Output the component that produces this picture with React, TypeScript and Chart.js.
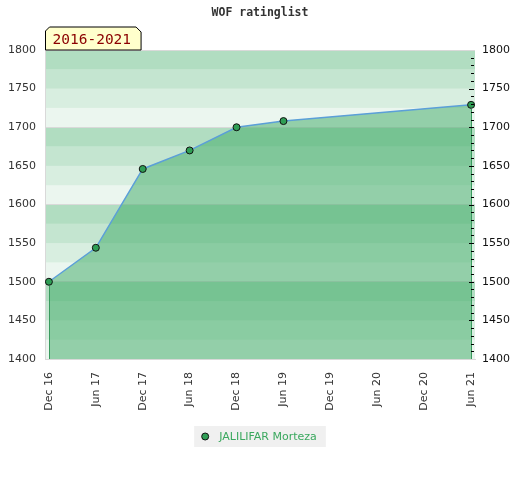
import React, { useEffect, useRef } from 'react';
import { Chart, registerables } from 'chart.js';

Chart.register(...registerables);

const chartTitle = 'WOF ratinglist';
const periodLabel = '2016-2021';
const playerName = 'JALILIFAR Morteza';
// months after Dec 2016
const monthOffsets = [0, 6, 12, 18, 24, 30, 54];
const ratings = [1500, 1544, 1646, 1670, 1700, 1708, 1729];
const xTickMonths = [0, 6, 12, 18, 24, 30, 36, 42, 48, 54];
const xTickLabels = ['Dec 16', 'Jun 17', 'Dec 17', 'Jun 18', 'Dec 18', 'Jun 19', 'Dec 19', 'Jun 20', 'Dec 20', 'Jun 21'];
const yMin = 1400;
const yMax = 1800;

const FONT = "'DejaVu Sans', sans-serif";
const MONO = "'DejaVu Sans Mono', monospace";

const bandsPlugin = {
  id: 'bands',
  beforeDraw(chart: any) {
    const { ctx, chartArea } = chart;
    const y = chart.scales.y;
    const alphas = [0.1, 0.2, 0.3, 0.4];
    ctx.save();
    for (let v = y.min; v < y.max; v += 25) {
      const top = y.getPixelForValue(v + 25);
      const bottom = y.getPixelForValue(v);
      const idx = Math.round((v % 100) / 25);
      ctx.fillStyle = `rgba(60,170,100,${alphas[idx]})`;
      ctx.fillRect(chartArea.left, top, chartArea.right - chartArea.left, bottom - top);
    }
    ctx.restore();
  },
};

const decoPlugin = {
  id: 'deco',
  afterDatasetsDraw(chart: any) {
    const { ctx, chartArea } = chart;
    const xs = chart.scales.x;
    const ys = chart.scales.y;
    const y2 = chart.scales.y2;
    ctx.save();
    // vertical edges of filled area
    ctx.strokeStyle = '#3a9a5e';
    ctx.lineWidth = 1;
    [0, ratings.length - 1].forEach((i) => {
      const px = Math.round(xs.getPixelForValue(monthOffsets[i])) + 0.5;
      const py = ys.getPixelForValue(ratings[i]) + 4;
      ctx.beginPath();
      ctx.moveTo(px, py);
      ctx.lineTo(px, chartArea.bottom);
      ctx.stroke();
    });
    // right axis minor ticks
    ctx.strokeStyle = '#000';
    for (let v = y2.min + 10; v < y2.max; v += 10) {
      const py = Math.round(y2.getPixelForValue(v)) + 0.5;
      const len = v % 50 === 0 ? 5 : 3;
      ctx.beginPath();
      ctx.moveTo(chartArea.right - 1 - len, py);
      ctx.lineTo(chartArea.right - 1, py);
      ctx.stroke();
    }
    ctx.restore();
  },
  afterDraw(chart: any) {
    const { ctx, chartArea, width } = chart;
    ctx.save();
    // title
    ctx.fillStyle = '#333';
    ctx.font = `bold 11.5px ${MONO}`;
    ctx.textAlign = 'center';
    ctx.textBaseline = 'middle';
    ctx.fillText(chartTitle, width / 2, 13);

    // period label box
    const l = chartArea.left + 0.5;
    const b = chartArea.top;
    const t = b - 23;
    ctx.font = `14.5px ${MONO}`;
    const tw = ctx.measureText(periodLabel).width;
    const r = l + tw + 17;
    ctx.beginPath();
    ctx.moveTo(l, b);
    ctx.lineTo(l, t + 4);
    ctx.lineTo(l + 4, t);
    ctx.lineTo(r - 5, t);
    ctx.lineTo(r, t + 5);
    ctx.lineTo(r, b);
    ctx.closePath();
    ctx.fillStyle = '#ffffcc';
    ctx.fill();
    ctx.strokeStyle = '#000';
    ctx.lineWidth = 1;
    ctx.stroke();
    ctx.fillStyle = '#8b0000';
    ctx.textAlign = 'left';
    ctx.textBaseline = 'middle';
    ctx.fillText(periodLabel, l + 7, t + 13.5);

    // legend
    ctx.font = `11px ${FONT}`;
    const lw = ctx.measureText(playerName).width;
    const bw = lw + 34;
    const bx = width / 2 - bw / 2;
    const by = 426;
    ctx.fillStyle = '#f0f0f0';
    ctx.fillRect(bx, by, bw, 21);
    ctx.beginPath();
    ctx.arc(bx + 11, by + 10.5, 3.5, 0, Math.PI * 2);
    ctx.fillStyle = '#2f9e55';
    ctx.fill();
    ctx.strokeStyle = '#111';
    ctx.stroke();
    ctx.fillStyle = '#3aa85e';
    ctx.textAlign = 'left';
    ctx.textBaseline = 'middle';
    ctx.fillText(playerName, bx + 25, by + 11);
    ctx.restore();
  },
};

export default function App() {
  const ref = useRef<HTMLCanvasElement | null>(null);
  useEffect(() => {
    if (!ref.current) return;
    const chart = new Chart(ref.current, {
      type: 'line',
      data: {
        datasets: [
          {
            label: playerName,
            data: monthOffsets.map((m, i) => ({ x: m, y: ratings[i] })),
            borderColor: '#5b9fd8',
            borderWidth: 1.5,
            backgroundColor: 'rgba(60,170,100,0.5)',
            fill: 'start',
            tension: 0,
            pointRadius: 3.5,
            pointBackgroundColor: '#2f9e55',
            pointBorderColor: '#111',
            pointBorderWidth: 1,
          },
        ],
      },
      options: {
        animation: false,
        responsive: false,
        layout: { padding: { top: 50, left: 0, right: 0, bottom: 0 } },
        plugins: {
          legend: { display: false },
          title: { display: false },
          tooltip: { enabled: false },
        },
        scales: {
          x: {
            type: 'linear',
            min: -0.5,
            max: 54.5,
            afterBuildTicks: (s: any) => {
              s.ticks = xTickMonths.map((v) => ({ value: v }));
            },
            ticks: {
              autoSkip: false,
              minRotation: 90,
              maxRotation: 90,
              padding: 13,
              color: '#333',
              font: { family: FONT, size: 11 },
              callback: (v: any) => {
                const i = xTickMonths.indexOf(Number(v));
                return i >= 0 ? xTickLabels[i] : '';
              },
            },
            grid: { display: false, drawTicks: false },
            border: { display: true, color: '#d9d9d9' },
            afterFit: (s: any) => {
              s.height = 121;
            },
          },
          y: {
            position: 'left',
            min: yMin,
            max: yMax,
            ticks: {
              stepSize: 50,
              padding: 9,
              color: '#333',
              font: { family: FONT, size: 11 },
              callback: (v: any) => String(v),
            },
            grid: {
              drawTicks: false,
              color: (c: any) => (c.tick && c.tick.value % 100 === 0 ? '#d9d9d9' : 'rgba(0,0,0,0)'),
            },
            border: { display: true, color: '#d9d9d9' },
            afterFit: (s: any) => {
              s.width = 45;
            },
          },
          y2: {
            position: 'right',
            min: yMin,
            max: yMax,
            ticks: {
              stepSize: 50,
              padding: 7,
              color: '#111',
              font: { family: FONT, size: 11 },
              callback: (v: any) => String(v),
            },
            grid: { display: false, drawTicks: false },
            border: { display: false },
            afterFit: (s: any) => {
              s.width = 45;
            },
          },
        },
      },
      plugins: [bandsPlugin, decoPlugin],
    } as any);
    return () => chart.destroy();
  }, []);
  return (
    <div style={{ position: 'fixed', left: 0, top: 0, width: 520, height: 480, background: '#fff' }}>
      <canvas ref={ref} width={520} height={480} style={{ display: 'block' }} />
    </div>
  );
}
